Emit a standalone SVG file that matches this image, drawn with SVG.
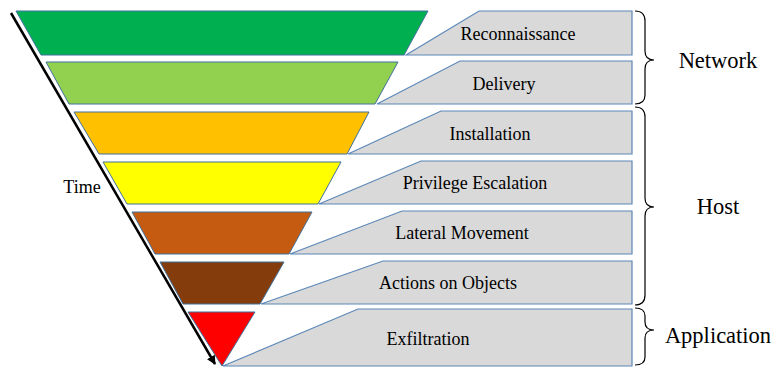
<svg xmlns="http://www.w3.org/2000/svg" width="775" height="367" viewBox="0 0 775 367">
<style>
.tz{stroke:#41719C;stroke-width:1}
.box{fill:#D9D9D9;stroke:#5B87B8;stroke-width:1.2}
.lbl{font-family:"Liberation Serif","Times New Roman",serif;font-size:18px;fill:#000;text-anchor:middle}
.grp{font-family:"Liberation Serif","Times New Roman",serif;font-size:22.5px;fill:#000;text-anchor:middle}
.brace{fill:none;stroke:#000;stroke-width:1.2}
</style>
<defs>
<marker id="ah" viewBox="0 0 10 10" refX="9" refY="5" markerWidth="9" markerHeight="9" markerUnits="userSpaceOnUse" orient="auto">
<path d="M0,0 L10,5 L0,10 z" fill="#000"/>
</marker>
</defs>
<rect width="775" height="367" fill="#fff"/>
<g id="funnel">
<polygon class="tz" fill="#00B050" points="16,11 428,11 404,55 41,55"/>
<polygon class="tz" fill="#92D050" points="46,62 398,62 375,104 69,104"/>
<polygon class="tz" fill="#FFC000" points="74,112 369,112 347,154 99,154"/>
<polygon class="tz" fill="#FFFF00" points="103,162 341,162 318,204 127,204"/>
<polygon class="tz" fill="#C55A11" points="132,212 312,212 289,254 155,254"/>
<polygon class="tz" fill="#843C0C" points="160,262 284,262 260,304 183,304"/>
<polygon class="tz" fill="#FF0000" points="188,312 255,312 222,366"/>
</g>
<g id="reconnaissance"><polygon class="box" points="406,55 479,11 632,11 632,55"/><text class="lbl" x="518" y="40">Reconnaissance</text></g>
<g id="delivery"><polygon class="box" points="377,104 460,61 632,61 632,104"/><text class="lbl" x="504" y="90">Delivery</text></g>
<g id="installation"><polygon class="box" points="348,154 441,111 632,111 632,154"/><text class="lbl" x="490" y="140">Installation</text></g>
<g id="privilege"><polygon class="box" points="319,204 421,161 632,161 632,204"/><text class="lbl" x="475" y="189">Privilege Escalation</text></g>
<g id="lateral"><polygon class="box" points="290,254 402,211 632,211 632,254"/><text class="lbl" x="462" y="239">Lateral Movement</text></g>
<g id="actions"><polygon class="box" points="261,304 383,261 632,261 632,304"/><text class="lbl" x="448" y="289">Actions on Objects</text></g>
<g id="exfiltration"><polygon class="box" points="223,366 358,309 632,309 632,366"/><text class="lbl" x="428" y="345">Exfiltration</text></g>
<g id="network"><path class="brace" d="M635,11 Q645,11 645,21 L645,51 Q645,60 654,60 Q645,60 645,69 L645,95 Q645,104 635,104"/><text class="grp" x="718" y="68">Network</text></g>
<g id="host"><path class="brace" d="M635,107 Q645,107 645,117 L645,198 Q645,207 654,207 Q645,207 645,216 L645,295 Q645,305 635,305"/><text class="grp" x="718" y="214">Host</text></g>
<g id="application"><path class="brace" d="M635,308 Q645,308 645,316 L645,322 Q645,330 654,330 Q645,330 645,338 L645,357 Q645,365 635,365"/><text class="grp" x="718" y="343">Application</text></g>
<g id="connectors">
<line x1="11" y1="13" x2="215" y2="364" stroke="#000" stroke-width="2.5" marker-end="url(#ah)"/>
</g>
<g id="time"><text class="lbl" x="82" y="193">Time</text></g>
</svg>
